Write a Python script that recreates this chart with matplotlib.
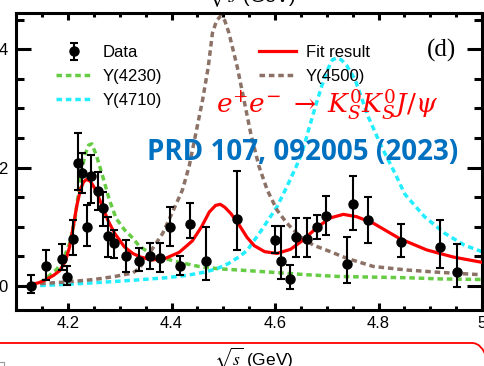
import matplotlib
matplotlib.use('Agg')
import matplotlib.pyplot as plt
from matplotlib.ticker import MultipleLocator, FuncFormatter
from matplotlib.patches import FancyBboxPatch, Rectangle
from matplotlib.transforms import IdentityTransform

plt.rcParams['font.family'] = ['Liberation Sans', 'DejaVu Sans']
plt.rcParams['mathtext.fontset'] = 'stix'

# measured cross section points (sqrt(s) in GeV)
energia = [4.1285, 4.1574, 4.1888, 4.1989, 4.2092, 4.2187, 4.2263, 4.2357, 4.2438,
           4.2580, 4.2668, 4.2777, 4.2879, 4.3121, 4.3374, 4.3583, 4.3774, 4.3965,
           4.4156, 4.4362, 4.4671, 4.5271, 4.5995, 4.6119, 4.6280, 4.6409, 4.6612,
           4.6819, 4.6988, 4.7397, 4.7500, 4.7805, 4.8431, 4.9180, 4.9509]
sigma = [0.00, 0.33, 0.45, 0.16, 0.79, 2.07, 1.90, 1.00, 1.85,
         1.60, 1.32, 0.84, 0.72, 0.50, 0.43, 0.50, 0.48, 0.99,
         0.34, 1.04, 0.42, 1.14, 0.77, 0.43, 0.12, 0.82, 0.80,
         0.99, 1.18, 0.37, 1.38, 1.11, 0.75, 0.66, 0.24]
err_bajo = [0.12, 0.23, 0.18, 0.14, 0.27, 0.45, 0.33, 0.32, 0.45,
            0.32, 0.30, 0.35, 0.25, 0.26, 0.18, 0.22, 0.24, 0.31,
            0.15, 0.23, 0.31, 0.53, 0.21, 0.31, 0.17, 0.33, 0.31,
            0.20, 0.32, 0.32, 0.43, 0.38, 0.26, 0.35, 0.25]
err_alto = [0.19, 0.28, 0.26, 0.17, 0.32, 0.52, 0.34, 0.37, 0.36,
            0.33, 0.26, 0.33, 0.23, 0.28, 0.22, 0.22, 0.24, 0.35,
            0.17, 0.37, 0.57, 0.81, 0.24, 0.58, 0.23, 0.33, 0.35,
            0.21, 0.34, 0.46, 0.48, 0.40, 0.29, 0.45, 0.47]

# total fit
fit_x = [4.128, 4.145, 4.158, 4.172, 4.184, 4.195, 4.203, 4.210, 4.217, 4.224,
         4.230, 4.236, 4.243, 4.251, 4.259, 4.267, 4.277, 4.290, 4.309, 4.325,
         4.340, 4.363, 4.389, 4.415, 4.440, 4.458, 4.473, 4.485, 4.494, 4.503,
         4.515, 4.530, 4.546, 4.560, 4.580, 4.604, 4.630, 4.655, 4.681, 4.707,
         4.732, 4.758, 4.790, 4.841, 4.893, 4.944, 5.000]
fit_y = [0.02, 0.06, 0.11, 0.18, 0.26, 0.42, 0.66, 1.00, 1.36, 1.63,
         1.76, 1.80, 1.77, 1.66, 1.50, 1.33, 1.11, 0.89, 0.66, 0.55,
         0.49, 0.44, 0.47, 0.57, 0.76, 1.00, 1.25, 1.36, 1.38, 1.33,
         1.22, 1.04, 0.82, 0.68, 0.58, 0.55, 0.62, 0.78, 0.99, 1.15,
         1.21, 1.17, 1.06, 0.80, 0.61, 0.49, 0.40]

# Y(4230) component
y4230_x = [4.128, 4.145, 4.162, 4.178, 4.190, 4.203, 4.213, 4.223, 4.232, 4.240,
           4.246, 4.255, 4.267, 4.280, 4.293, 4.309, 4.325, 4.338, 4.363, 4.389,
           4.415, 4.453, 4.492, 4.530, 4.598, 4.662, 4.726, 4.790, 4.855, 4.919, 5.000]
y4230_y = [0.01, 0.05, 0.16, 0.28, 0.43, 0.72, 1.11, 1.75, 2.20, 2.38,
           2.40, 2.20, 1.85, 1.45, 1.14, 0.95, 0.81, 0.67, 0.53, 0.46,
           0.40, 0.33, 0.29, 0.27, 0.23, 0.19, 0.16, 0.15, 0.14, 0.12, 0.11]

# Y(4500) component
y4500_x = [4.128, 4.200, 4.250, 4.290, 4.325, 4.338, 4.357, 4.383, 4.402, 4.421,
           4.434, 4.447, 4.460, 4.471, 4.479, 4.487, 4.495, 4.503, 4.511, 4.527,
           4.540, 4.553, 4.569, 4.585, 4.604, 4.623, 4.649, 4.674, 4.707, 4.738,
           4.790, 4.855, 4.919, 5.000]
y4500_y = [0.03, 0.07, 0.11, 0.16, 0.22, 0.30, 0.55, 0.89, 1.25, 1.62,
           2.02, 2.58, 3.14, 3.70, 4.27, 4.48, 4.56, 4.48, 4.27, 3.70,
           3.14, 2.58, 2.02, 1.62, 1.28, 1.06, 0.83, 0.69, 0.58, 0.47,
           0.33, 0.27, 0.23, 0.19]

# Y(4710) component
y4710_x = [4.128, 4.200, 4.260, 4.330, 4.390, 4.430, 4.467, 4.490, 4.510, 4.530,
           4.546, 4.572, 4.604, 4.623, 4.640, 4.652, 4.665, 4.678, 4.690, 4.703,
           4.711, 4.719, 4.728, 4.738, 4.755, 4.780, 4.806, 4.832, 4.851, 4.870,
           4.889, 4.928, 4.966, 5.000]
y4710_y = [0.00, 0.03, 0.06, 0.10, 0.14, 0.18, 0.24, 0.30, 0.38, 0.49,
           0.60, 0.92, 1.34, 1.68, 2.00, 2.24, 2.64, 3.03, 3.37, 3.68,
           3.82, 3.85, 3.82, 3.73, 3.48, 2.86, 2.35, 1.90, 1.55, 1.36,
           1.17, 0.89, 0.69, 0.58]

W, H = 484, 366
fig = plt.figure(figsize=(W / 100, H / 100), dpi=100)
ax = fig.add_axes([16.3 / W, (H - 310) / H, (482 - 16.3) / W, (310 - 13) / H])

punteado = (0, (1.6, 1.1))
l4230, = ax.plot(y4230_x, y4230_y, color='#66cc44', lw=2.5, ls=punteado, zorder=2)
l4710, = ax.plot(y4710_x, y4710_y, color='#22eeff', lw=2.5, ls=punteado, zorder=2)
l4500, = ax.plot(y4500_x, y4500_y, color='#8c7266', lw=2.5, ls=punteado, zorder=2)
lfit, = ax.plot(fit_x, fit_y, color='#ff0000', lw=2.3, zorder=3)
datos = ax.errorbar(energia, sigma, yerr=[err_bajo, err_alto], fmt='o', color='black',
                    ms=6.5, elinewidth=1.5, capsize=3, capthick=1.5, zorder=4)

ax.set_xlim(4.1, 5.0)
ax.set_ylim(-0.405, 4.61)
ax.xaxis.set_major_locator(MultipleLocator(0.2))
ax.xaxis.set_minor_locator(MultipleLocator(0.05))
ax.yaxis.set_major_locator(MultipleLocator(2))
ax.yaxis.set_minor_locator(MultipleLocator(0.5))
ax.xaxis.set_major_formatter(FuncFormatter(lambda v, p: f'{v:g}'))
ax.tick_params(axis='both', which='both', direction='in', top=True, right=True,
               width=2.2, labelsize=12)
ax.tick_params(axis='x', which='major', length=5, pad=4)
ax.tick_params(axis='x', which='minor', length=3)
ax.tick_params(axis='y', which='major', length=11, pad=6)
ax.tick_params(axis='y', which='minor', length=6)
for s in ax.spines.values():
    s.set_linewidth(2.2)

ax.legend([datos, l4230, l4710, lfit, l4500],
          ['Data', 'Y(4230)', 'Y(4710)', 'Fit result', 'Y(4500)'],
          ncol=2, frameon=False, fontsize=12, loc='upper left',
          bbox_to_anchor=((56 - 16.3) / 465.7, (310 - 45) / 297),
          handlelength=2.2, handletextpad=0.6, columnspacing=5.8,
          labelspacing=0.55, borderpad=0, borderaxespad=0)

fig.text(442 / W, (H - 50) / H, '(d)', family='Liberation Serif', fontsize=18,
         ha='center', va='center')
fig.text(327.5 / W, (H - 105) / H, r'$e^{+}e^{-}\;\rightarrow\;K_S^0K_S^0J/\psi$',
         color='#ff0000', fontsize=19, math_fontfamily='dejavuserif',
         ha='center', va='center')
fig.text(303 / W, (H - 152) / H, 'PRD 107, 092005 (2023)', family='Open Sans',
         weight='bold', color='#0070c0', fontsize=20, ha='center', va='center')

# axis titles of the neighbouring panels
fig.text(251 / W, (H - 3) / H, r'$\sqrt{s}$ (GeV)', fontsize=14, ha='center',
         va='baseline')
fig.text(254 / W, (H - 358) / H, r'$\sqrt{s}$ (GeV)', fontsize=12.5, ha='center',
         va='center')

# rounded red frame below the panel
marco = FancyBboxPatch((-60, -60), 552, H - 343 + 60, boxstyle='round,pad=0,rounding_size=20',
                       fill=False, ec='#ff0000', lw=1.3, transform=IdentityTransform())
fig.patches.append(marco)
fig.patches.append(Rectangle((-4, -4), 8, 8, fill=False, ec='#999999', lw=0.8,
                             transform=IdentityTransform()))

fig.savefig('out.png', dpi=100)
